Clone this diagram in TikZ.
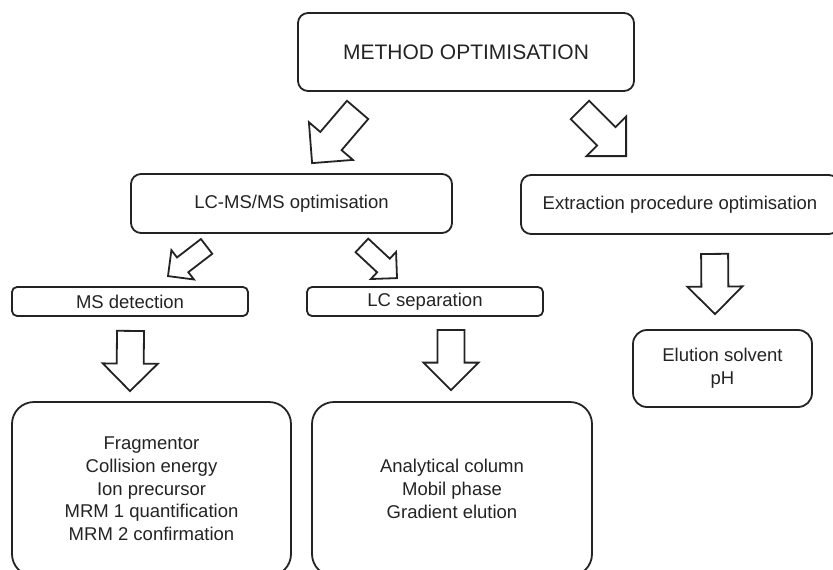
\documentclass[tikz,border=0pt]{standalone}
\usepackage{fontspec}
\setmainfont{Liberation Sans}
\usetikzlibrary{calc}

\definecolor{inkgray}{RGB}{35, 35, 35}

% hollow block arrow: start, tip, shaft half width, head half width
\newcommand{\hollowarrow}[4]{%
  \coordinate (hb) at ($(#2)!#4!(#1)$);
  \draw[arrowline] ($(#1)!#3!90:(#2)$) -- ($(hb)!#3!90:(#2)$) -- ($(hb)!#4!90:(#2)$) -- (#2)
    -- ($(hb)!#4!-90:(#2)$) -- ($(hb)!#3!-90:(#2)$) -- ($(#1)!#3!-90:(#2)$) -- cycle;
}

\begin{document}
\begin{tikzpicture}[x=1pt, y=-1pt,
  optbox/.style={draw=inkgray, line width=1.8pt, rounded corners=10pt, inner sep=0pt,
    align=center, text=inkgray, font=\fontsize{18.5}{22.7}\selectfont},
  stepbox/.style={optbox, rounded corners=5pt, minimum width=236pt, minimum height=29pt},
  listbox/.style={optbox, rounded corners=22pt},
  arrowline/.style={draw=inkgray, line width=1.8pt, line join=miter, fill=white}]
  \useasboundingbox (0,0) rectangle (833,570);

  % top level
  \node[optbox, minimum width=336pt, minimum height=78pt, font=\fontsize{21}{25}\selectfont] (method) at (466,52) {METHOD OPTIMISATION};

  % second level
  \node[optbox, minimum width=321pt, minimum height=59pt] (lcms) at (291.5,203.5) {LC-MS/MS optimisation};
  \node[optbox, minimum width=318pt, minimum height=59pt] (extract) at (680,204.5) {Extraction procedure optimisation};

  % third level
  \node[stepbox] (msdet) at (130,301.5) {MS detection};
  \node[stepbox] (lcsep) at (425,301.5) {LC separation};
  \node[listbox, rounded corners=14pt, minimum width=179pt, minimum height=77pt] (elution) at (722.5,368.5) {Elution solvent\\pH};

  % parameter boxes
  \node[listbox, minimum width=279pt, minimum height=174pt] (msparams) at (151.5,489) {Fragmentor\\Collision energy\\Ion precursor\\MRM 1 quantification\\MRM 2 confirmation};
  \node[listbox, minimum width=280pt, minimum height=174pt] (lcparams) at (452,489) {Analytical column\\Mobil phase\\Gradient elution};

  % arrow ends
  \coordinate (meth-l) at ($(method.south west)+(60.5,18)$);
  \coordinate (lcms-t) at ($(lcms.north west)+(182,-10)$);
  \coordinate (meth-r) at ($(method.south east)+(-55,18)$);
  \coordinate (extr-t) at ($(extract.north west)+(106,-18)$);
  \coordinate (lcms-l) at ($(lcms.south west)+(76.5,12.5)$);
  \coordinate (msdet-t) at ($(msdet.north)+(38,-10)$);
  \coordinate (lcms-r) at ($(lcms.south east)+(-91,11.5)$);
  \coordinate (lcsep-t) at ($(lcsep.north)+(-28,-8)$);
  \coordinate (msdet-b) at ($(msdet.south)+(0.5,14)$);
  \coordinate (msp-t) at ($(msdet.south |- msparams.north)+(0,-10)$);
  \coordinate (lcsep-b) at ($(lcparams.north |- lcsep.south)+(-1,13)$);
  \coordinate (lcp-t) at ($(lcparams.north)+(-1,-11)$);
  \coordinate (extr-b) at ($(extract.south west)+(194.5,19)$);
  \coordinate (elu-t) at ($(elution.north west)+(83,-15)$);

  % block arrows
  \hollowarrow{meth-l}{lcms-t}{14pt}{29pt}
  \hollowarrow{meth-r}{extr-t}{13pt}{28pt}
  \hollowarrow{lcms-l}{msdet-t}{9.3pt}{18.5pt}
  \hollowarrow{lcms-r}{lcsep-t}{9.3pt}{18.5pt}
  \hollowarrow{msdet-b}{msp-t}{13.5pt}{27.5pt}
  \hollowarrow{lcsep-b}{lcp-t}{13.5pt}{27.5pt}
  \hollowarrow{extr-b}{elu-t}{13.5pt}{27.5pt}
\end{tikzpicture}
\end{document}
